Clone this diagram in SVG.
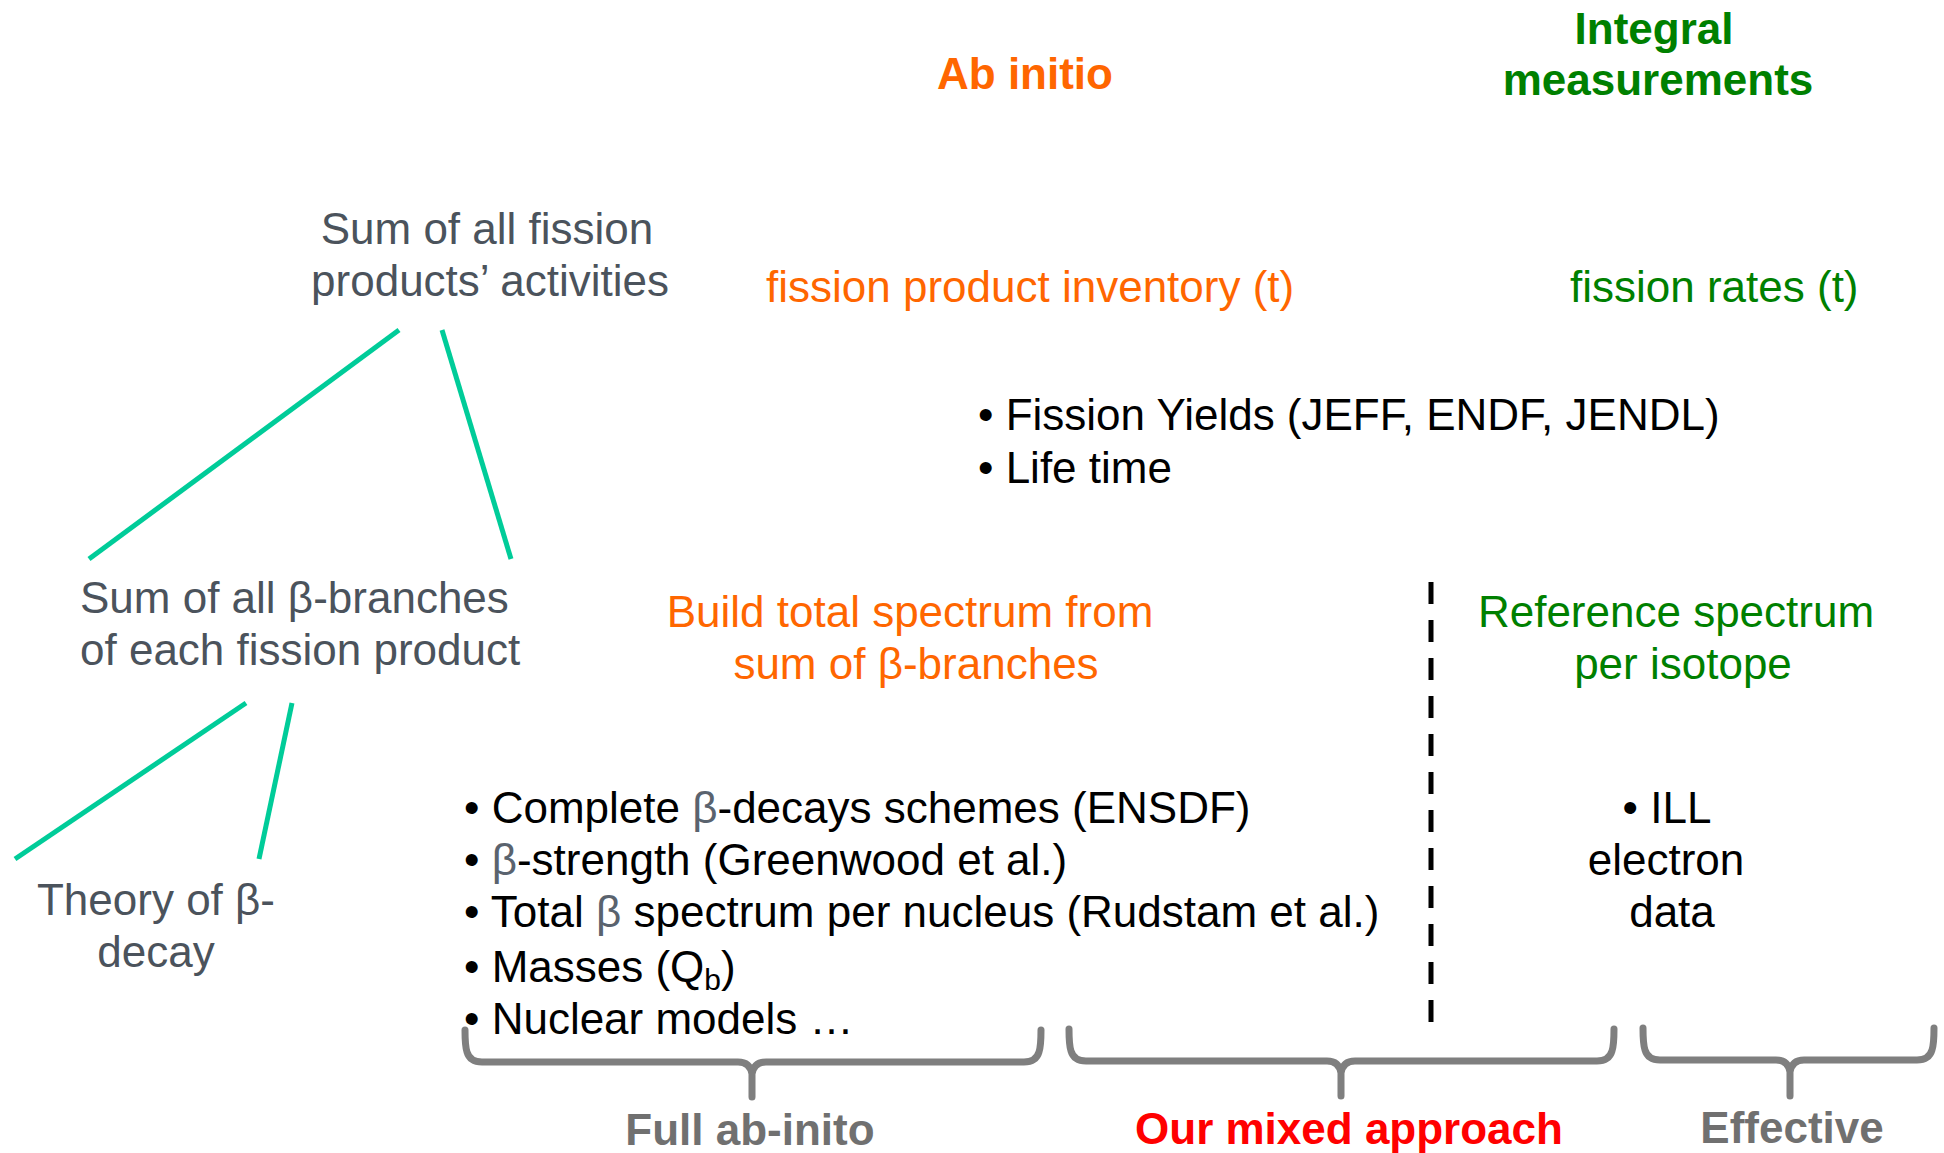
<svg xmlns="http://www.w3.org/2000/svg" width="1944" height="1153" viewBox="0 0 1944 1153">
<style>
text{font-family:"Liberation Sans",Arial,sans-serif;font-size:44px}
.b{font-weight:bold}
.or{fill:#ff6600}
.gr{fill:#008000}
.nd{fill:#4b535c}
.bk{fill:#000000}
.lb{fill:#707070;font-weight:bold}
.rd{fill:#ff0000;font-weight:bold}
.gb{fill:#5a636e}
.c{text-anchor:middle}
.tl{stroke:#00cc99;stroke-width:5;stroke-linecap:butt;fill:none}
.br{stroke:#7f7f7f;stroke-width:7;stroke-linecap:round;stroke-linejoin:round;fill:none}
.dl{stroke:#000;stroke-width:5;stroke-dasharray:22 16;fill:none}
</style>
<rect width="1944" height="1153" fill="#ffffff"/>
<g id="connectors">
<line class="tl" x1="399" y1="330" x2="89" y2="559"/>
<line class="tl" x1="442" y1="330" x2="511" y2="559"/>
<line class="tl" x1="246" y1="703" x2="15" y2="859"/>
<line class="tl" x1="292" y1="703" x2="259" y2="859"/>
<line class="dl" x1="1431" y1="582" x2="1431" y2="1028"/>
</g>
<g id="header-abinitio"><text class="b or c" x="1025" y="89">Ab initio</text></g>
<g id="header-integral"><text class="b gr c" x="1654" y="44">Integral</text><text class="b gr c" x="1658" y="95">measurements</text></g>
<g id="node-sum-fission"><text class="nd c" x="487" y="244">Sum of all fission</text><text class="nd c" x="490" y="296">products’ activities</text></g>
<g id="node-sum-branches"><text class="nd" x="80" y="613">Sum of all β-branches</text><text class="nd" x="80" y="665">of each fission product</text></g>
<g id="node-theory"><text class="nd c" x="156" y="915">Theory of β-</text><text class="nd c" x="156" y="967">decay</text></g>
<g id="inventory"><text class="or" x="766" y="302">fission product inventory (t)</text></g>
<g id="rates"><text class="gr" x="1570" y="302">fission rates (t)</text></g>
<g id="yields"><text class="bk" x="978" y="430">• Fission Yields (JEFF, ENDF, JENDL)</text><text class="bk" x="978" y="483">• Life time</text></g>
<g id="build"><text class="or c" x="910" y="627">Build total spectrum from</text><text class="or c" x="916" y="679">sum of β-branches</text></g>
<g id="reference"><text class="gr c" x="1676" y="627">Reference spectrum</text><text class="gr c" x="1683" y="679">per isotope</text></g>
<g id="inputs">
<text class="bk" x="464" y="823">• Complete <tspan class="gb">β</tspan>-decays schemes (ENSDF)</text>
<text class="bk" x="464" y="875">• <tspan class="gb">β</tspan>-strength (Greenwood et al.)</text>
<text class="bk" x="464" y="927">• Total <tspan class="gb">β</tspan> spectrum per nucleus (Rudstam et al.)</text>
<text class="bk" x="464" y="982">• Masses (Q<tspan font-size="30" dy="8">b</tspan><tspan dy="-8">)</tspan></text>
<text class="bk" x="464" y="1034">• Nuclear models …</text>
</g>
<g id="ill"><text class="bk c" x="1667" y="823">• ILL</text><text class="bk c" x="1666" y="875">electron</text><text class="bk c" x="1672" y="927">data</text></g>
<g id="brace-full">
<path class="br" d="M465,1030 Q465,1046 467,1052 Q470,1062 482,1062 L738,1062 Q750,1062 752,1074 L752,1097 M752,1074 Q754,1062 766,1062 L1024,1062 Q1036,1062 1039,1052 Q1041,1046 1041,1030"/>
<text class="lb c" x="750" y="1145">Full ab-inito</text>
</g>
<g id="brace-mixed">
<path class="br" d="M1069,1029 Q1069,1045 1071,1051 Q1074,1061 1086,1061 L1327,1061 Q1339,1061 1341,1073 L1341,1096 M1341,1073 Q1343,1061 1355,1061 L1597,1061 Q1609,1061 1612,1051 Q1614,1045 1614,1029"/>
<text class="rd c" x="1349" y="1144">Our mixed approach</text>
</g>
<g id="brace-effective">
<path class="br" d="M1643,1028 Q1643,1044 1645,1050 Q1648,1060 1660,1060 L1776,1060 Q1788,1060 1790,1072 L1790,1096 M1790,1072 Q1792,1060 1804,1060 L1917,1060 Q1929,1060 1932,1050 Q1934,1044 1934,1028"/>
<text class="lb c" x="1792" y="1143">Effective</text>
</g>
</svg>
